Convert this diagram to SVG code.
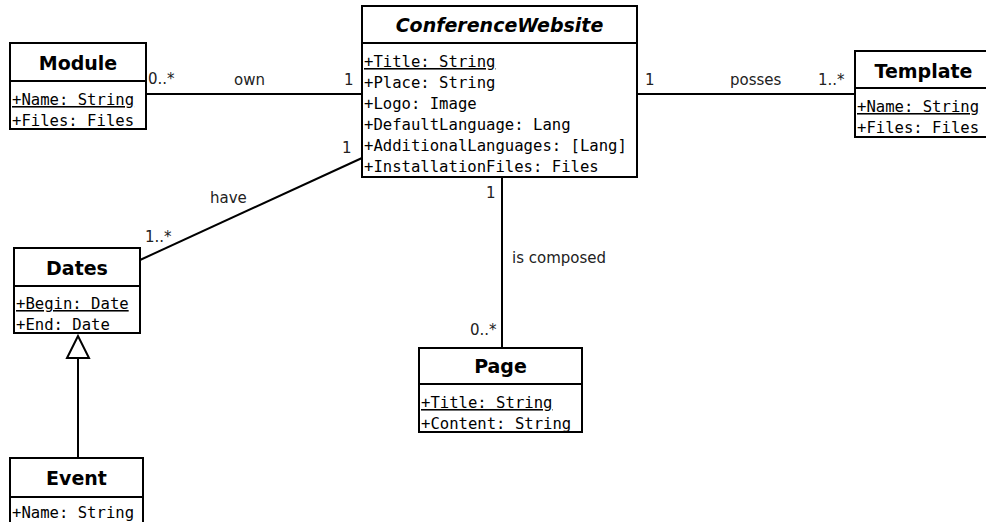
<svg xmlns="http://www.w3.org/2000/svg" width="986" height="522" viewBox="0 0 986 522">
<style>
.box{fill:#fff;stroke:#000;stroke-width:2}
.div{stroke:#000;stroke-width:2}
.t{font-family:"DejaVu Sans",sans-serif;font-weight:bold;font-size:19px;text-anchor:middle;fill:#000}
.ti{font-style:italic}
.a{font-family:"DejaVu Sans Mono",monospace;font-size:15.6px;fill:#000}
.u{text-decoration:underline}
.l{font-family:"DejaVu Sans",sans-serif;font-size:15px;fill:#222}
.c{stroke:#000;stroke-width:2;fill:none}
</style>
<rect width="986" height="522" fill="#fff"/>
<g id="connectors">
<line class="c" x1="146" y1="94" x2="362" y2="94"/>
<line class="c" x1="637" y1="94" x2="855" y2="94"/>
<line class="c" x1="140" y1="260" x2="362" y2="158"/>
<line class="c" x1="502" y1="177" x2="502" y2="348"/>
<line class="c" x1="78" y1="458" x2="78" y2="358"/>
<polygon points="78,336 67,358 89,358" fill="#fff" stroke="#000" stroke-width="2"/>
<text class="l" x="148" y="84">0..*</text>
<text class="l" x="234" y="85">own</text>
<text class="l" x="344" y="85">1</text>
<text class="l" x="645" y="85">1</text>
<text class="l" x="730" y="85">posses</text>
<text class="l" x="818" y="85">1..*</text>
<text class="l" x="210" y="203">have</text>
<text class="l" x="145" y="242">1..*</text>
<text class="l" x="342" y="153">1</text>
<text class="l" x="486" y="198">1</text>
<text class="l" x="512" y="263">is composed</text>
<text class="l" x="470" y="335">0..*</text>
</g>
<g id="ConferenceWebsite">
<rect class="box" x="362" y="6" width="275" height="171"/>
<line class="div" x1="362" y1="43" x2="637" y2="43"/>
<text class="t ti" x="499.5" y="32">ConferenceWebsite</text>
<text class="a u" x="364" y="67">+Title: String</text>
<text class="a" x="364" y="88">+Place: String</text>
<text class="a" x="364" y="109">+Logo: Image</text>
<text class="a" x="364" y="130">+DefaultLanguage: Lang</text>
<text class="a" x="364" y="151">+AdditionalLanguages: [Lang]</text>
<text class="a" x="364" y="172">+InstallationFiles: Files</text>
</g>
<g id="Module">
<rect class="box" x="10" y="43" width="136" height="86"/>
<line class="div" x1="10" y1="81" x2="146" y2="81"/>
<text class="t" x="78" y="70">Module</text>
<text class="a u" x="12" y="105">+Name: String</text>
<text class="a" x="12" y="126">+Files: Files</text>
</g>
<g id="Template">
<rect class="box" x="855" y="51" width="137" height="86"/>
<line class="div" x1="855" y1="88" x2="992" y2="88"/>
<text class="t" x="923.5" y="78">Template</text>
<text class="a u" x="857" y="112">+Name: String</text>
<text class="a" x="857" y="133">+Files: Files</text>
</g>
<g id="Dates">
<rect class="box" x="14" y="248" width="126" height="85"/>
<line class="div" x1="14" y1="286" x2="140" y2="286"/>
<text class="t" x="77" y="275">Dates</text>
<text class="a u" x="16" y="309">+Begin: Date</text>
<text class="a" x="16" y="330">+End: Date</text>
</g>
<g id="Page">
<rect class="box" x="419" y="348" width="163" height="84"/>
<line class="div" x1="419" y1="384" x2="582" y2="384"/>
<text class="t" x="500.5" y="373">Page</text>
<text class="a u" x="421" y="408">+Title: String</text>
<text class="a" x="421" y="429">+Content: String</text>
</g>
<g id="Event">
<rect class="box" x="10" y="458" width="133" height="80"/>
<line class="div" x1="10" y1="497" x2="143" y2="497"/>
<text class="t" x="76.5" y="485">Event</text>
<text class="a" x="12" y="518">+Name: String</text>
</g>
</svg>
